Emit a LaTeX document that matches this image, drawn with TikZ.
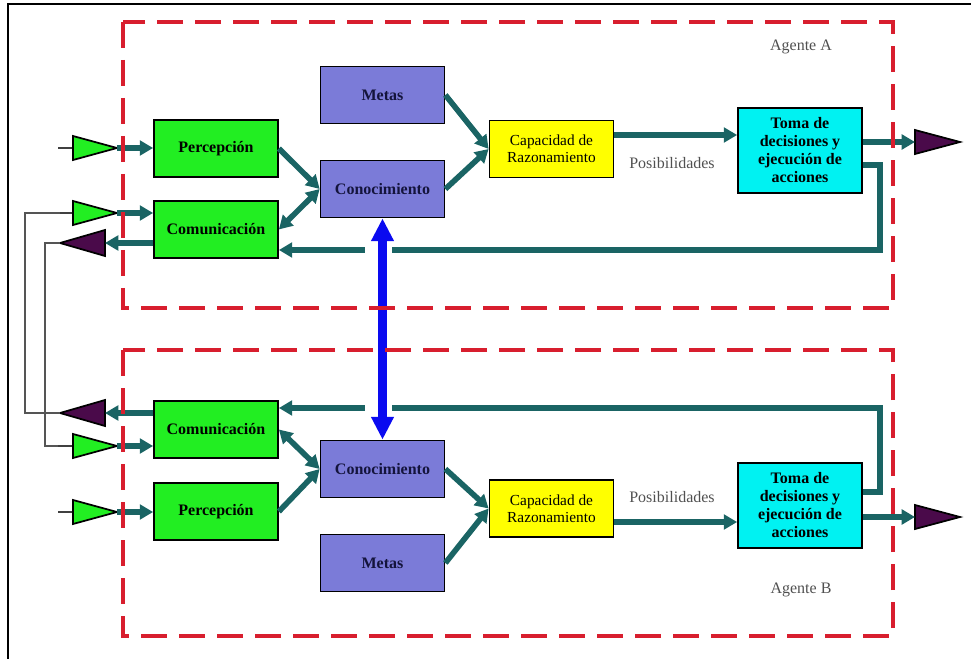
\documentclass[tikz,border=0pt]{standalone}
\usepackage{fontspec}
\setmainfont{Liberation Serif}
\usetikzlibrary{arrows.meta}

\definecolor{tealline}{HTML}{1A6464}
\definecolor{boxgreen}{HTML}{22EE22}
\definecolor{boxviolet}{HTML}{7B7BD8}
\definecolor{boxyellow}{HTML}{FFFF00}
\definecolor{boxcyan}{HTML}{00F2F2}
\definecolor{outpurple}{HTML}{4A0A4A}
\definecolor{agentred}{HTML}{D81E2E}
\definecolor{knowblue}{HTML}{0A0AF0}
\definecolor{wiregray}{HTML}{555555}
\definecolor{labelgray}{HTML}{505050}
\definecolor{navytext}{HTML}{14143C}

\begin{document}
\begin{tikzpicture}[x=0.75pt,y=-0.75pt,
  blk/.style={draw=black, line width=1.3pt, minimum width=93pt, minimum height=42.75pt,
    inner sep=1pt, align=center, font=\fontsize{12}{13.5}\selectfont\bfseries},
  percbox/.style={blk, fill=boxgreen},
  knowbox/.style={blk, fill=boxviolet, text=navytext},
  reasonbox/.style={blk, fill=boxyellow, font=\fontsize{11.5}{12.5}\selectfont},
  actbox/.style={blk, fill=boxcyan, minimum height=63.75pt},
  conn/.style={draw=tealline, line width=4.2pt, -{Triangle[length=10pt,width=11pt]}},
  bothconn/.style={draw=tealline, line width=4.2pt, {Triangle[length=10pt,width=11pt]}-{Triangle[length=10pt,width=11pt]}},
  wire/.style={draw=wiregray, line width=0.9pt},
  stub/.style={draw=black!75, line width=1.5pt},
  intri/.style={fill=boxgreen, draw=black, line width=1.3pt},
  outtri/.style={fill=outpurple, draw=black, line width=1.3pt},
  agentbox/.style={draw=agentred, line width=3pt, dash pattern=on 19.5pt off 9pt},
  note/.style={text=labelgray, font=\fontsize{12}{13}\selectfont},
  bridge/.style={draw=knowblue, line width=7pt,
    {Triangle[length=17pt,width=16pt]}-{Triangle[length=17pt,width=16pt]}}
]
\useasboundingbox (0,0) rectangle (971,659);

% outer frame
\draw[line width=1.5pt] (8,659) -- (8,4) -- (971,4);

% ---------------- Agente A ----------------
\node[knowbox]  (metasA) at (382.5,95)    {Metas};
\node[percbox]  (percA)  at (216,148.5)   {Percepción};
\node[knowbox]  (conA)   at (382.5,189)   {Conocimiento};
\node[percbox]  (comA)   at (216,229.5)   {Comunicación};
\node[reasonbox](capA)   at (551.5,149)   {Capacidad de\\Razonamiento};
\node[actbox]   (tomaA)  at (800,150.5)   {Toma de\\decisiones y\\ejecución de\\acciones};
\node[note]     (posA)   at (672,163)     {Posibilidades};
\node[note]     (agA)    at (801,47)      {Agente A};

% ---------------- Agente B ----------------
\node[percbox]  (comB)   at (216,429.5)   {Comunicación};
\node[knowbox]  (conB)   at (382.5,469)   {Conocimiento};
\node[percbox]  (percB)  at (216,511.5)   {Percepción};
\node[knowbox]  (metasB) at (382.5,563)   {Metas};
\node[reasonbox](capB)   at (551.5,508.5) {Capacidad de\\Razonamiento};
\node[actbox]   (tomaB)  at (800,505.5)   {Toma de\\decisiones y\\ejecución de\\acciones};
\node[note]     (posB)   at (672,497)     {Posibilidades};
\node[note]     (agB)    at (801,590)     {Agente B};

% ---------------- sensors and effectors ----------------
% inputs (green)
\coordinate (inPA) at (117,148);
\coordinate (inCA) at (117,213);
\coordinate (inCB) at (117,446);
\coordinate (inPB) at (117,512);
\foreach \y in {148,213,446,512}{
  \draw[stub] (58,\y) -- (73,\y);
  \draw[intri] (73,\y-12) -- (117,\y) -- (73,\y+12) -- cycle;
}
% outputs (purple)
\coordinate (outCA) at (105,243);
\coordinate (outCB) at (105,413);
\coordinate (outTA) at (915,142);
\coordinate (outTB) at (915,517);
\draw[outtri] (60,243) -- (105,230) -- (105,256) -- cycle;
\draw[outtri] (60,413) -- (105,400) -- (105,426) -- cycle;
\draw[outtri] (915,130) -- (960,142) -- (915,154) -- cycle;
\draw[outtri] (915,505) -- (960,517) -- (915,529) -- cycle;

% wires between the two agents
\draw[wire] (60,213) -- (25,213) -- (25,413) -- (60,413);
\draw[wire] (60,243) -- (45,243) -- (45,446) -- (58,446);

% ---------------- connectors A ----------------
\draw[conn] (inPA) -- (percA.west |- inPA);
\draw[conn] (inCA) -- (comA.west |- inCA);
\draw[conn] (comA.west |- outCA) -- (outCA);
\draw[conn] (percA.east) -- (conA.west);
\draw[bothconn] (comA.east) -- (conA.west);
\draw[conn] (metasA.east) -- (capA.west);
\draw[conn] (conA.east) -- (capA.west);
\coordinate (rA) at (676,135);
\draw[conn] (capA.east |- rA) -- (tomaA.west |- rA);
\draw[conn] (tomaA.east |- outTA) -- (outTA);
\coordinate (fA1) at (880,165);
\coordinate (fA2) at (880,250);
\draw[conn] (tomaA.east |- fA1) -- (fA1) -- (fA2) -- (comA.east |- fA2);

% ---------------- connectors B ----------------
\draw[conn] (inPB) -- (percB.west |- inPB);
\draw[conn] (inCB) -- (comB.west |- inCB);
\draw[conn] (comB.west |- outCB) -- (outCB);
\draw[conn] (percB.east) -- (conB.west);
\draw[bothconn] (comB.east) -- (conB.west);
\draw[conn] (metasB.east) -- (capB.west);
\draw[conn] (conB.east) -- (capB.west);
\coordinate (rB) at (676,522);
\draw[conn] (capB.east |- rB) -- (tomaB.west |- rB);
\draw[conn] (tomaB.east |- outTB) -- (outTB);
\coordinate (fB1) at (880,492);
\coordinate (fB2) at (880,408);
\draw[conn] (tomaB.east |- fB1) -- (fB1) -- (fB2) -- (comB.east |- fB2);

% shared knowledge link, crossing the feedback lines
\fill[white] (365,240) rectangle (392,260);
\fill[white] (365,398) rectangle (392,418);
\draw[bridge] (conA.south) -- (conB.north);

% agent boundaries
\draw[agentbox] (123,22) rectangle (893,308);
\draw[agentbox] (123,350) rectangle (893,636);
\end{tikzpicture}
\end{document}
